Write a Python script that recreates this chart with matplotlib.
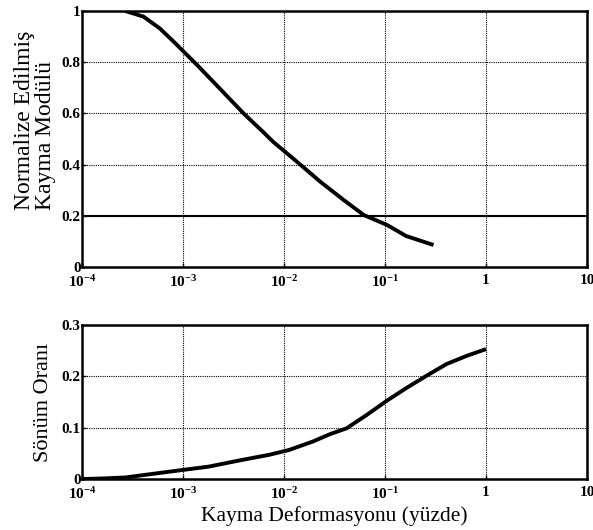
import matplotlib
matplotlib.use("Agg")
import matplotlib.pyplot as plt

# Shear strain (percent) and normalized shear modulus G/Gmax
strain_g = [2.69e-4, 4.07e-4, 5.89e-4, 7.76e-4, 9.77e-4, 1.38e-3, 2.14e-3, 3.98e-3,
            6.31e-3, 7.76e-3, 1.07e-2, 1.45e-2, 2.29e-2, 3.89e-2, 6.17e-2, 1.05e-1,
            1.62e-1, 3.02e-1]
modulus = [1.0, 0.978, 0.932, 0.887, 0.848, 0.789, 0.711, 0.600,
           0.525, 0.490, 0.444, 0.400, 0.333, 0.262, 0.203, 0.164,
           0.121, 0.086]

# Shear strain (percent) and damping ratio
strain_d = [1.0e-4, 1.58e-4, 2.69e-4, 4.57e-4, 9.77e-4, 1.78e-3, 3.8e-3, 7.08e-3,
            1.12e-2, 1.91e-2, 2.88e-2, 4.17e-2, 6.61e-2, 1.07e-1, 1.62e-1, 2.57e-1,
            4.07e-1, 6.46e-1, 1.0]
damping = [0.0, 0.001, 0.003, 0.009, 0.0175, 0.024, 0.037, 0.047,
           0.0565, 0.0727, 0.0877, 0.0988, 0.125, 0.154, 0.177, 0.201,
           0.224, 0.240, 0.253]

x_ticks = [1e-4, 1e-3, 1e-2, 1e-1, 1, 10]
x_ticklabels = [r"$\mathbf{10^{-4}}$", r"$\mathbf{10^{-3}}$", r"$\mathbf{10^{-2}}$",
                r"$\mathbf{10^{-1}}$", "1", "10"]
g_ticks = [0, 0.2, 0.4, 0.6, 0.8, 1]
g_ticklabels = ["0", "0.2", "0.4", "0.6", "0.8", "1"]
d_ticks = [0, 0.1, 0.2, 0.3]
d_ticklabels = ["0", "0.1", "0.2", "0.3"]

plt.rcParams["font.family"] = ["Liberation Serif", "DejaVu Serif"]
plt.rcParams["mathtext.fontset"] = "custom"
plt.rcParams["mathtext.rm"] = "Liberation Serif"
plt.rcParams["mathtext.bf"] = "Liberation Serif:bold"

fig = plt.figure(figsize=(5.93, 5.30), dpi=100)
ax1 = fig.add_axes([0.1383, 0.4962, 0.8516, 0.4830])
ax2 = fig.add_axes([0.1383, 0.0962, 0.8516, 0.2906])


def style(ax, yticks, ylabels):
    ax.set_xscale("log")
    ax.set_xlim(1e-4, 10)
    ax.set_xticks(x_ticks)
    ax.set_xticklabels(x_ticklabels)
    ax.xaxis.set_minor_locator(matplotlib.ticker.NullLocator())
    ax.set_yticks(yticks)
    ax.set_yticklabels(ylabels)
    ax.set_ylim(yticks[0], yticks[-1])
    ax.grid(True, which="major", color="black", linestyle=(0, (1, 1)), linewidth=0.8)
    for s in ax.spines.values():
        s.set_linewidth(1.8)
    ax.tick_params(direction="in", length=3, width=1)
    ax.tick_params(axis="x", pad=5)
    ax.tick_params(axis="y", pad=1)
    for lab in ax.get_xticklabels() + ax.get_yticklabels():
        lab.set_fontweight("bold")
        lab.set_fontsize(11)


style(ax1, g_ticks, g_ticklabels)
ax1.plot(strain_g, modulus, color="black", linewidth=2.8,
         solid_capstyle="butt", solid_joinstyle="round")
ax1.axhline(0.2, color="black", linewidth=1.5)
# two-line y label, each line placed on its own
fig.text(25 / 593, 1 - 120 / 530, "Normalize Edilmiş", rotation=90,
         ha="center", va="center", fontsize=17)
fig.text(46 / 593, 1 - 135 / 530, "Kayma Modülü", rotation=90,
         ha="center", va="center", fontsize=17)

style(ax2, d_ticks, d_ticklabels)
ax2.plot(strain_d, damping, color="black", linewidth=2.8,
         solid_capstyle="butt", solid_joinstyle="round")
ax2.set_ylabel("Sönüm Oranı", fontsize=16, labelpad=6)
ax2.set_xlabel("Kayma Deformasyonu (yüzde)", fontsize=15.5, labelpad=3)

fig.savefig("out.png", dpi=100)
